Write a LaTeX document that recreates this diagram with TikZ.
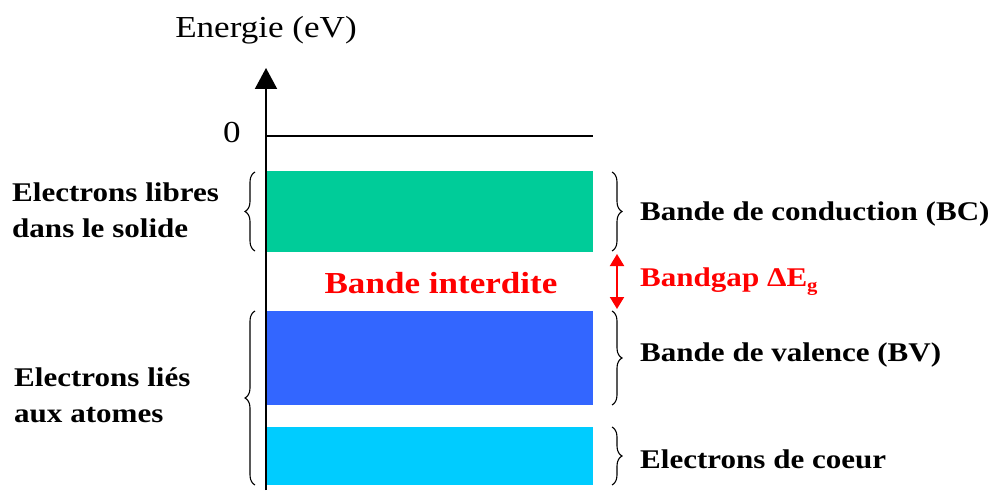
\documentclass[tikz,border=0pt]{standalone}
\usepackage{fontspec}
\setmainfont{Liberation Serif}[FakeStretch=1.15]
\usetikzlibrary{decorations.pathreplacing,arrows.meta}
\definecolor{bcgreen}{HTML}{00CC99}
\definecolor{bvblue}{HTML}{3366FF}
\definecolor{corecyan}{HTML}{00CCFF}
\definecolor{gapred}{HTML}{FF0000}
\tikzset{
  band/.style={inner sep=0pt, outer sep=0pt, minimum width=327pt},
  bracedec/.style={decorate, decoration={brace, amplitude=10pt}, line width=1.1pt},
  lbl/.style={font=\fontsize{27}{36}\selectfont\bfseries, inner sep=0pt, anchor=west, align=left},
}
\begin{document}
\begin{tikzpicture}[x=1pt,y=1pt]
\useasboundingbox (0,0) rectangle (993,491);
% bands
\node[band, fill=bcgreen, minimum height=81pt] (bc) at (429.5,279.5) {};
\node[band, fill=bvblue, minimum height=94pt] (bv) at (429.5,133) {};
\node[band, fill=corecyan, minimum height=58pt] (core) at (429.5,35) {};
% axis
\coordinate (ax0) at (266,1);
\coordinate (axtop) at (266,423);
\draw[line width=2pt, -{Triangle[width=22pt,length=21pt]}] (ax0) -- (axtop);
\node[font=\fontsize{30.5}{30}\selectfont, inner sep=0pt] (energie) at (266,461) {Energie (eV)};
\coordinate (z0) at (266,355);
\coordinate (z1) at (593,355);
\draw[line width=1.3pt] (z0) -- (z1);
\node[font=\fontsize{30.5}{30}\selectfont, inner sep=0pt] (zero) at (232,358) {0};
% left braces
\draw[bracedec] ([xshift=-11pt,yshift=1pt]bc.south west) -- ([xshift=-11pt,yshift=-1pt]bc.north west);
\draw[bracedec] ([xshift=-11pt]core.south west) -- ([xshift=-11pt]bv.north west);
% right braces
\draw[bracedec] ([xshift=19pt,yshift=-1pt]bc.north east) -- ([xshift=19pt,yshift=1pt]bc.south east);
\draw[bracedec] ([xshift=19pt]bv.north east) -- ([xshift=19pt]bv.south east);
\draw[bracedec] ([xshift=19pt]core.north east) -- ([xshift=19pt]core.south east);
% gap arrow
\draw[gapred, line width=2pt, {Triangle[width=14pt,length=12pt]}-{Triangle[width=14pt,length=12pt]}, shorten <=2pt, shorten >=2pt]
  ([xshift=24pt]bc.south east) -- ([xshift=24pt]bv.north east);
% labels
\node[font=\fontsize{30.5}{30}\selectfont\bfseries, text=gapred, inner sep=0pt] (interdite) at (441,208) {Bande interdite};
\node[lbl, text=gapred] (gap) at (640,209) {Bandgap ΔE\raisebox{-5pt}{\fontsize{18}{18}\selectfont g}};
\node[lbl] (bclbl) at (640,277) {Bande de conduction (BC)};
\node[lbl] (bvlbl) at (640,136) {Bande de valence (BV)};
\node[lbl] (corelbl) at (640,32) {Electrons de coeur};
\node[lbl] (libres) at (12,281) {Electrons libres\\dans le solide};
\node[lbl] (lies) at (14,96) {Electrons liés\\aux atomes};
\end{tikzpicture}
\end{document}
